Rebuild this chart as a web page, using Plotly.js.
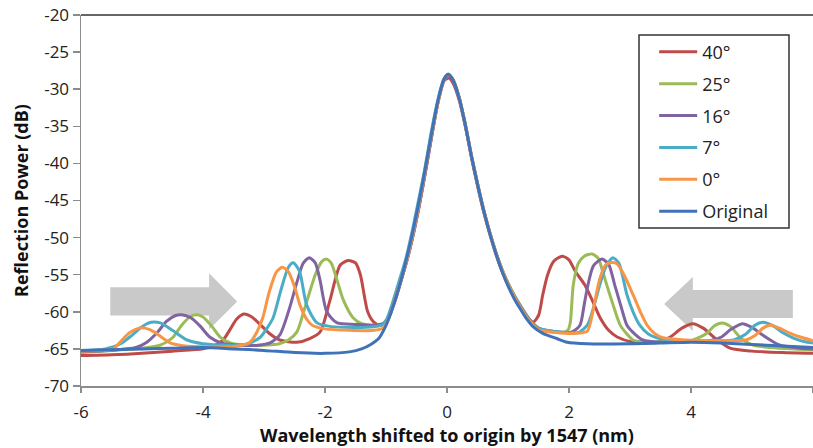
<!DOCTYPE html>
<html>
<head>
<meta charset="utf-8">
<script src="https://cdn.plot.ly/plotly-3.0.1.min.js"></script>
<style>html,body{margin:0;padding:0;background:#fff;}#chart{width:813px;height:448px;}</style>
</head>
<body>
<div id="chart"></div>
<script>
// Series names and colours
const seriesNames = ["40°", "25°", "16°", "7°", "0°", "Original"];
const seriesColors = ["#BE4B48", "#9BBB59", "#8064A2", "#4BACC6", "#F79646", "#3F72B8"];

// 40°
const x40 = [-6,-5.5,-5,-4.5,-4.0,-3.8,-3.67,-3.55,-3.45,-3.33,-3.2,-3.05,-2.9,-2.74,-2.46,-2.25,-2.08,-1.92,-1.75,-1.62,-1.5,-1.42,-1.3,-1.2,-1.1,-1.0,-0.92,-0.83,-0.74,-0.64,-0.54,-0.44,-0.34,-0.24,-0.14,-0.05,0.03,0.1,0.2,0.3,0.4,0.5,0.6,0.7,0.8,0.9,1.0,1.1,1.2,1.3,1.41,1.5,1.57,1.65,1.75,1.89,2.0,2.1,2.26,2.4,2.51,2.65,2.79,3.05,3.3,3.5,3.66,3.85,4.03,4.2,4.43,4.64,5.0,5.5,6.0];
const y40 = [-65.9,-65.8,-65.6,-65.3,-65.0,-64.5,-63.8,-62.3,-61.0,-60.3,-60.7,-61.8,-63.0,-63.8,-64.1,-63.6,-62.7,-58.5,-53.7,-53.1,-53.4,-55.0,-60.0,-61.4,-61.8,-61.3,-60.0,-58.0,-55.5,-52.5,-49.0,-45.0,-40.5,-35.8,-31.5,-28.9,-28.5,-29.2,-31.5,-35.0,-39.2,-43.0,-46.5,-49.5,-52.2,-54.5,-56.4,-58.0,-59.4,-60.6,-61.4,-60.5,-57.7,-55.0,-53.2,-52.5,-53.0,-54.5,-56.4,-58.8,-60.8,-62.5,-63.4,-64.1,-64.2,-64.0,-63.4,-62.2,-61.6,-62.2,-63.8,-64.9,-65.3,-65.5,-65.6];

// 25°
const x25 = [-6,-5.5,-5,-4.7,-4.5,-4.35,-4.2,-4.1,-4.0,-3.85,-3.72,-3.55,-3.3,-3.0,-2.75,-2.6,-2.46,-2.35,-2.25,-2.15,-2.05,-1.98,-1.9,-1.8,-1.7,-1.54,-1.4,-1.2,-1.05,-0.96,-0.86,-0.76,-0.65,-0.55,-0.45,-0.35,-0.25,-0.15,-0.05,0.02,0.1,0.2,0.3,0.4,0.5,0.6,0.7,0.8,0.9,1.0,1.1,1.2,1.35,1.5,1.7,1.9,1.98,2.02,2.07,2.15,2.25,2.38,2.48,2.55,2.62,2.72,2.84,2.95,3.05,3.3,3.6,4.0,4.15,4.26,4.38,4.51,4.65,4.8,5.02,5.3,5.7,6.0];
const y25 = [-65.5,-65.2,-64.9,-64.5,-63.5,-61.8,-60.6,-60.4,-60.7,-62.0,-63.4,-64.2,-64.5,-64.5,-64.3,-63.8,-62.7,-60.0,-57.3,-54.8,-53.2,-52.9,-53.4,-55.8,-58.4,-60.8,-61.6,-61.8,-61.6,-60.8,-58.5,-55.8,-52.8,-49.4,-45.4,-40.9,-36.2,-31.7,-28.7,-28.0,-28.7,-31.1,-34.7,-38.9,-42.7,-46.2,-49.2,-51.9,-54.2,-56.1,-57.7,-59.1,-61.0,-62.2,-62.7,-62.8,-62.5,-61.5,-56.4,-53.5,-52.5,-52.2,-52.8,-54.5,-56.4,-59.0,-61.8,-63.0,-63.8,-64.1,-64.0,-63.9,-63.4,-62.9,-61.9,-61.5,-62.0,-63.4,-64.5,-64.8,-65.0,-65.1];

// 16°
const x16 = [-6,-5.5,-5.1,-4.92,-4.75,-4.6,-4.45,-4.35,-4.2,-4.05,-3.89,-3.7,-3.4,-3.1,-2.9,-2.74,-2.6,-2.46,-2.36,-2.26,-2.16,-2.08,-1.97,-1.8,-1.5,-1.2,-1.05,-0.96,-0.86,-0.76,-0.65,-0.55,-0.45,-0.35,-0.25,-0.15,-0.05,0.02,0.1,0.2,0.3,0.4,0.5,0.6,0.7,0.8,0.9,1.0,1.1,1.2,1.35,1.5,1.8,2.05,2.18,2.25,2.31,2.4,2.54,2.65,2.75,2.85,2.95,3.08,3.21,3.5,4.0,4.3,4.5,4.65,4.84,5.0,5.15,5.3,5.46,5.8,6.0];
const y16 = [-65.4,-65.2,-64.8,-64.1,-62.8,-61.3,-60.5,-60.4,-60.8,-61.9,-63.4,-64.2,-64.5,-64.5,-64.2,-63.1,-60.0,-56.0,-53.5,-52.7,-53.4,-55.8,-60.0,-61.5,-61.7,-61.8,-61.6,-60.9,-58.6,-55.9,-52.9,-49.5,-45.5,-41.0,-36.3,-31.8,-28.8,-28.1,-28.8,-31.2,-34.8,-39.0,-42.8,-46.3,-49.3,-52.0,-54.3,-56.2,-57.8,-59.2,-61.0,-62.2,-62.7,-62.7,-61.8,-59.0,-56.4,-53.8,-52.9,-53.6,-56.4,-59.2,-61.8,-63.0,-63.8,-64.1,-64.0,-63.9,-63.4,-62.4,-61.6,-62.1,-63.0,-63.8,-64.5,-64.9,-65.0];

// 7°
const x7 = [-6,-5.6,-5.35,-5.2,-5.0,-4.85,-4.7,-4.5,-4.26,-4.0,-3.6,-3.3,-3.07,-2.95,-2.85,-2.72,-2.6,-2.52,-2.42,-2.3,-2.13,-1.9,-1.5,-1.2,-1.07,-0.99,-0.89,-0.79,-0.68,-0.58,-0.48,-0.37,-0.27,-0.16,-0.06,0.02,0.1,0.2,0.3,0.4,0.5,0.6,0.7,0.8,0.9,1.0,1.1,1.2,1.35,1.5,1.8,2.15,2.3,2.4,2.5,2.6,2.72,2.82,2.95,3.05,3.16,3.3,3.44,3.8,4.3,4.7,4.9,5.05,5.18,5.35,5.5,5.67,5.85,6.0];
const y7 = [-65.2,-65.0,-64.3,-63.4,-62.0,-61.4,-61.5,-62.5,-63.8,-64.3,-64.5,-64.4,-63.5,-62.2,-60.8,-57.0,-54.0,-53.4,-54.5,-59.1,-61.5,-62.0,-62.1,-62.0,-61.8,-61.0,-58.7,-56.0,-53.0,-49.5,-45.5,-41.0,-36.3,-31.8,-28.8,-28.0,-28.8,-31.2,-34.8,-39.0,-42.8,-46.3,-49.3,-52.0,-54.3,-56.2,-57.8,-59.3,-61.1,-62.2,-62.7,-62.8,-61.8,-59.5,-56.5,-54.0,-52.7,-53.5,-57.7,-60.0,-61.8,-63.0,-63.5,-63.9,-63.9,-63.8,-63.0,-61.8,-61.4,-61.9,-62.8,-63.5,-64.0,-64.2];

// 0°
const x0 = [-6,-5.7,-5.48,-5.35,-5.2,-5.05,-4.95,-4.8,-4.65,-4.54,-4.3,-3.9,-3.5,-3.23,-3.12,-3.02,-2.92,-2.8,-2.7,-2.6,-2.5,-2.41,-2.3,-2.21,-2.0,-1.6,-1.2,-1.05,-0.97,-0.87,-0.77,-0.66,-0.56,-0.46,-0.36,-0.26,-0.15,-0.05,0.02,0.1,0.2,0.3,0.4,0.5,0.6,0.7,0.8,0.9,1.0,1.1,1.2,1.35,1.5,1.8,2.1,2.3,2.39,2.45,2.51,2.6,2.67,2.78,2.9,3.05,3.18,3.28,3.4,3.54,3.9,4.5,4.9,5.05,5.18,5.3,5.45,5.6,5.79,6.0];
const y0 = [-65.3,-65.2,-65.1,-64.0,-62.8,-62.2,-62.2,-62.7,-63.6,-64.2,-64.6,-64.7,-64.7,-64.1,-62.8,-60.8,-57.5,-54.7,-54.0,-54.6,-56.6,-59.1,-61.0,-61.8,-62.3,-62.5,-62.5,-62.2,-61.2,-58.8,-56.1,-53.1,-49.6,-45.6,-41.1,-36.4,-31.9,-28.8,-28.0,-28.7,-31.1,-34.7,-38.9,-42.7,-46.2,-49.3,-52.0,-54.3,-56.3,-57.9,-59.4,-61.2,-62.4,-62.8,-62.9,-62.6,-60.0,-57.5,-55.4,-53.7,-53.4,-53.5,-55.0,-57.7,-60.2,-61.8,-62.9,-63.5,-63.8,-63.9,-63.8,-63.2,-62.2,-61.8,-62.2,-62.8,-63.4,-63.9];

// Original
const xo = [-6,-5.5,-5,-4.5,-4,-3.5,-3,-2.5,-2.0,-1.6,-1.4,-1.25,-1.12,-1.02,-0.94,-0.85,-0.75,-0.65,-0.55,-0.45,-0.35,-0.25,-0.15,-0.05,0.02,0.1,0.2,0.3,0.4,0.5,0.6,0.7,0.8,0.9,1.0,1.1,1.2,1.3,1.41,1.57,1.8,1.97,2.3,3.0,3.5,4.0,4.5,5.0,5.5,6.0];
const yo = [-65.2,-65.1,-65.0,-64.9,-64.8,-65.0,-65.2,-65.5,-65.6,-65.4,-65.0,-64.4,-63.6,-62.2,-60.6,-58.4,-55.6,-52.4,-48.8,-44.8,-40.4,-35.8,-31.6,-28.7,-28.0,-28.8,-31.2,-34.8,-39.0,-42.8,-46.3,-49.4,-52.1,-54.5,-56.5,-58.2,-59.6,-60.9,-62.0,-62.9,-63.6,-64.1,-64.3,-64.3,-64.2,-64.1,-64.2,-64.4,-64.6,-64.8];

// Axis ticks
const xTicks = [-6, -4, -2, 0, 2, 4, 6];
const yTicks = [-20, -25, -30, -35, -40, -45, -50, -55, -60, -65, -70];

const xs = [x40, x25, x16, x7, x0, xo];
const ys = [y40, y25, y16, y7, y0, yo];

const traces = seriesNames.map((name, i) => ({
  type: "scatter",
  mode: "lines",
  name: name,
  legendgroup: "g" + i,
  x: xs[i],
  y: ys[i],
  line: { color: seriesColors[i], width: 3, shape: "spline", smoothing: 0.7 },
  hoverinfo: "skip"
}));

const FONT = "Open Sans, Noto Sans, sans-serif";
const axisGray = "#8c8c8c";
const arrowGray = "#c9c9c9";

const layout = {
  width: 813,
  height: 448,
  margin: { l: 81, r: 0, t: 15, b: 62, pad: 0 },
  paper_bgcolor: "#ffffff",
  plot_bgcolor: "#ffffff",
  font: { family: FONT, color: "#222222", size: 17 },
  showlegend: true,
  legend: {
    x: 0.783, y: 0.95, xanchor: "left", yanchor: "top",
    bgcolor: "rgba(0,0,0,0)", borderwidth: 0,
    font: { family: FONT, size: 18, color: "#222" },
    tracegroupgap: 5.5,
    itemwidth: 38,
    traceorder: "grouped"
  },
  xaxis: {
    range: [-6, 6],
    tickvals: xTicks,
    ticktext: xTicks.map(String),
    ticks: "outside", ticklen: 5, tickwidth: 1.5, tickcolor: axisGray,
    showline: true, linecolor: axisGray, linewidth: 1.5,
    showgrid: false, zeroline: false,
    tickfont: { family: FONT, size: 17, color: "#222" },
    ticklabelstandoff: 5,
    title: { text: "Wavelength shifted to origin by 1547 (nm)", font: { family: FONT, size: 18, color: "#111", weight: "bold" }, standoff: 6 },
    fixedrange: true
  },
  yaxis: {
    range: [-70, -20],
    tickvals: yTicks,
    ticktext: yTicks.map(String),
    ticks: "outside", ticklen: 7, tickwidth: 1.5, tickcolor: axisGray,
    showline: true, linecolor: axisGray, linewidth: 1.5,
    showgrid: false, zeroline: false,
    tickfont: { family: FONT, size: 17, color: "#222" },
    title: { text: "Reflection Power (dB)", font: { family: FONT, size: 18, color: "#111", weight: "bold" }, standoff: 11 },
    fixedrange: true
  },
  shapes: [
    { type: "line", xref: "paper", yref: "paper", x0: 0, x1: 1, y0: 1, y1: 1, line: { color: "#333333", width: 1.5 } },
    { type: "path", xref: "x", yref: "y", layer: "below", line: { width: 0 }, fillcolor: arrowGray,
      path: "M -5.52,-56.7 L -3.90,-56.7 L -3.90,-54.8 L -3.44,-58.6 L -3.90,-62.4 L -3.90,-60.5 L -5.52,-60.5 Z" },
    { type: "path", xref: "x", yref: "y", layer: "below", line: { width: 0 }, fillcolor: arrowGray,
      path: "M 5.67,-57.05 L 4.03,-57.05 L 4.03,-55.3 L 3.56,-58.95 L 4.03,-62.6 L 4.03,-60.85 L 5.67,-60.85 Z" },
    { type: "rect", xref: "paper", yref: "paper", x0: 0.7623, x1: 0.9672, y0: 0.4259, y1: 0.9461,
      line: { color: "#333333", width: 1.5 }, fillcolor: "rgba(255,255,255,1)", layer: "below" }
  ]
};

Plotly.newPlot("chart", traces, layout, { staticPlot: true, displayModeBar: false });
</script>
</body>
</html>
